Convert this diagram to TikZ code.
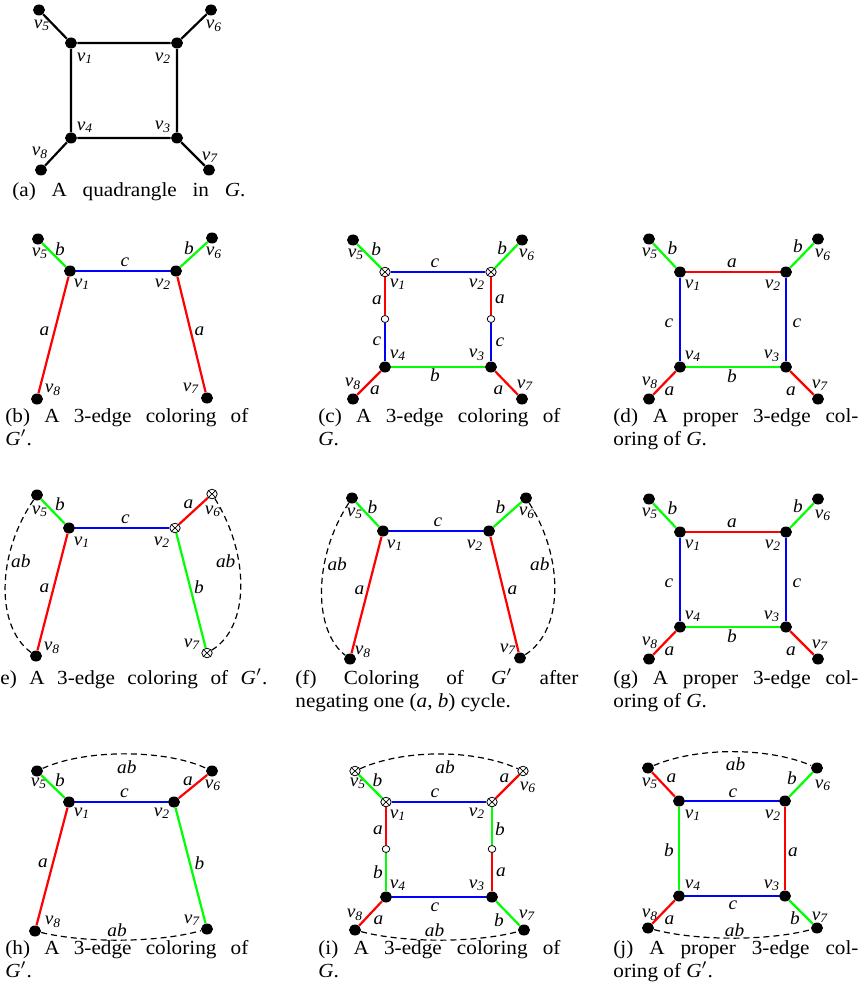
\documentclass[tikz,border=0pt]{standalone}
\usepackage{graphicx}
\usepackage{fontspec}
\setmainfont{Liberation Serif}
\usetikzlibrary{shapes.geometric}
\newcommand\vv[1]{\scalebox{1.05}[1]{\textit{v}\textsubscript{\textit{#1}}}}
\newcommand\ei[1]{\scalebox{1.05}[1]{#1}}
\newcommand\cw[2]{\scalebox{1.06}[1]{\hbox to #1{#2}}}
\newcommand\cn[1]{\scalebox{1.06}[1]{#1}}
\newcommand\capfont{\fontsize{10pt}{11.5pt}\selectfont}
\newcommand\lblfont{\fontsize{9.2pt}{10pt}\selectfont\itshape}
\tikzset{
  vdot/.style={ellipse,fill=black,inner sep=0pt,minimum width=6pt,minimum height=5.5pt},
  xdot/.style={ellipse,draw=black,line width=0.4pt,fill=white,inner sep=0pt,minimum width=5.2pt,minimum height=4.8pt,
    path picture={\draw[line width=0.35pt] (path picture bounding box.north west) -- (path picture bounding box.south east)
      (path picture bounding box.north east) -- (path picture bounding box.south west);}},
  odot/.style={ellipse,draw=black,line width=0.4pt,fill=white,inner sep=0pt,minimum width=3.8pt,minimum height=3.5pt},
  ea/.style={draw=red,line width=1.1pt},
  eb/.style={draw=green,line width=1.1pt},
  ec/.style={draw=blue,line width=1.1pt},
  ek/.style={draw=black,line width=1.1pt},
  eab/.style={draw=black,line width=0.6pt,dash pattern=on 3pt off 2pt},
  el/.style={font=\lblfont,text=black,inner sep=0pt},
  vl/.style={font=\lblfont,text=black,inner sep=0pt},
  captext/.style={font=\capfont,text=black,inner sep=0pt,anchor=base west},
}
\begin{document}
\begin{tikzpicture}[x=0.5pt,y=-0.5pt]
\useasboundingbox (0,0) rectangle (863,1000);
% ---------------- (a)
\begin{scope}[shift={(71,43)}]
\node[vdot,label={[vl,shift={(14,15)}]center:\vv1}] (a1) at (0,0) {};
\node[vdot,label={[vl,shift={(-14,15)}]center:\vv2}] (a2) at (106,0) {};
\node[vdot,label={[vl,shift={(-14,-11)}]center:\vv3}] (a3) at (106,95) {};
\node[vdot,label={[vl,shift={(14,-11)}]center:\vv4}] (a4) at (0,95) {};
\node[vdot,label={[vl,shift={(3,15)}]center:\vv5}] (a5) at (-32,-33) {};
\node[vdot,label={[vl,shift={(3,16)}]center:\vv6}] (a6) at (140,-33) {};
\node[vdot,label={[vl,shift={(1,-13)}]center:\vv7}] (a7) at (138,127) {};
\node[vdot,label={[vl,shift={(-1,-17)}]center:\vv8}] (a8) at (-30,127) {};
\draw[ek] (a5)--(a1) (a1)--(a2) (a2)--(a6) (a1)--(a4) (a2)--(a3) (a4)--(a3) (a8)--(a4) (a3)--(a7);
\end{scope}
\node[captext] (capa) at (12,197) {\cw{109.9pt}{(a) A quadrangle in \textit{G}.}};
% ---------------- (b)
\begin{scope}[shift={(70,271)}]
\node[vdot,label={[vl,shift={(12,13)}]center:\vv1}] (b1) at (0,0) {};
\node[vdot,label={[vl,shift={(-13,13)}]center:\vv2}] (b2) at (106,0) {};
\node[vdot,label={[vl,shift={(2,14)}]center:\vv5}] (b5) at (-32,-32) {};
\node[vdot,label={[vl,shift={(2,15)}]center:\vv6}] (b6) at (142,-33) {};
\node[vdot,label={[vl,shift={(-16,-10)}]center:\vv7}] (b7) at (137,127) {};
\node[vdot,label={[vl,shift={(16,-9)}]center:\vv8}] (b8) at (-33,128) {};
\draw[eb] (b5) -- node[el,shift={(6,-6)}]{\ei{b}} (b1);
\draw[ec] (b1) -- node[el,shift={(2,-9)}]{\ei{c}} (b2);
\draw[eb] (b2) -- node[el,shift={(-5,-6)}]{\ei{b}} (b6);
\draw[ea] (b1) -- node[el,shift={(-9,-4)}]{\ei{a}} (b8);
\draw[ea] (b2) -- node[el,shift={(8,-3)}]{\ei{a}} (b7);
\end{scope}
\node[captext] (capb1) at (5,422) {\cw{114.6pt}{(b) A 3-edge coloring of}};
\node[captext] (capb2) at (5,445) {\cn{\textit{G}$'$.}};
% ---------------- (c)
\begin{scope}[shift={(385,272)}]
\node[xdot,label={[vl,shift={(13,12)}]center:\vv1}] (c1) at (0,0) {};
\node[xdot,label={[vl,shift={(-14,12)}]center:\vv2}] (c2) at (106,0) {};
\node[vdot,label={[vl,shift={(-14,-12)}]center:\vv3}] (c3) at (106,95) {};
\node[vdot,label={[vl,shift={(13,-12)}]center:\vv4}] (c4) at (0,95) {};
\node[vdot,label={[vl,shift={(3,14)}]center:\vv5}] (c5) at (-32,-32) {};
\node[vdot,label={[vl,shift={(5,15)}]center:\vv6}] (c6) at (137,-32) {};
\node[vdot,label={[vl,shift={(3,-14)}]center:\vv7}] (c7) at (137,127) {};
\node[vdot,label={[vl,shift={(0,-15)}]center:\vv8}] (c8) at (-32,127) {};
\node[odot] (cm1) at (0,47) {};
\node[odot] (cm2) at (106,47) {};
\draw[eb] (c5) -- node[el,shift={(7,-7)}]{\ei{b}} (c1);
\draw[ec] (c1) -- node[el,shift={(-3,-9)}]{\ei{c}} (c2);
\draw[eb] (c2) -- node[el,shift={(-4,-8)}]{\ei{b}} (c6);
\draw[ea] (c1) -- node[el,shift={(-8,4)}]{\ei{a}} (cm1);
\draw[ec] (cm1) -- node[el,shift={(-8,-1)}]{\ei{c}} (c4);
\draw[ea] (c2) -- node[el,shift={(9,3)}]{\ei{a}} (cm2);
\draw[ec] (cm2) -- node[el,shift={(9,0)}]{\ei{c}} (c3);
\draw[eb] (c4) -- node[el,shift={(-3,8)}]{\ei{b}} (c3);
\draw[ea] (c8) -- node[el,shift={(6,7)}]{\ei{a}} (c4);
\draw[ea] (c3) -- node[el,shift={(-8,7)}]{\ei{a}} (c7);
\end{scope}
\node[captext] (capc1) at (318,422) {\cw{114.2pt}{(c) A 3-edge coloring of}};
\node[captext] (capc2) at (318,445) {\cn{\textit{G}.}};
% ---------------- (d)
\begin{scope}[shift={(680,272)}]
\node[vdot,label={[vl,shift={(13,13)}]center:\vv1}] (d1) at (0,0) {};
\node[vdot,label={[vl,shift={(-13,13)}]center:\vv2}] (d2) at (106,0) {};
\node[vdot,label={[vl,shift={(-14,-11)}]center:\vv3}] (d3) at (106,95) {};
\node[vdot,label={[vl,shift={(13,-11)}]center:\vv4}] (d4) at (0,95) {};
\node[vdot,label={[vl,shift={(1,14)}]center:\vv5}] (d5) at (-31,-33) {};
\node[vdot,label={[vl,shift={(5,16)}]center:\vv6}] (d6) at (138,-33) {};
\node[vdot,label={[vl,shift={(2,-14)}]center:\vv7}] (d7) at (138,127) {};
\node[vdot,label={[vl,shift={(1,-16)}]center:\vv8}] (d8) at (-31,127) {};
\draw[eb] (d5) -- node[el,shift={(8,-7)}]{\ei{b}} (d1);
\draw[ea] (d1) -- node[el,shift={(-1,-9)}]{\ei{a}} (d2);
\draw[eb] (d2) -- node[el,shift={(-4,-9)}]{\ei{b}} (d6);
\draw[ec] (d1) -- node[el,shift={(-11,4)}]{\ei{c}} (d4);
\draw[ec] (d2) -- node[el,shift={(11,4)}]{\ei{c}} (d3);
\draw[eb] (d4) -- node[el,shift={(-1,9)}]{\ei{b}} (d3);
\draw[ea] (d8) -- node[el,shift={(5,8)}]{\ei{a}} (d4);
\draw[ea] (d3) -- node[el,shift={(-11,8)}]{\ei{a}} (d7);
\end{scope}
\node[captext] (capd1) at (613,422) {\cw{115.6pt}{(d) A proper 3-edge col-}};
\node[captext] (capd2) at (613,445) {\cn{oring of \textit{G}.}};
% ---------------- (e)
\begin{scope}[shift={(69,528)}]
\node[vdot,label={[vl,shift={(13,14)}]center:\vv1}] (e1) at (0,0) {};
\node[xdot,label={[vl,shift={(-13,14)}]center:\vv2}] (e2) at (106,0) {};
\node[vdot,label={[vl,shift={(3,16)}]center:\vv5}] (e5) at (-32,-33) {};
\node[xdot,label={[vl,shift={(1,17)}]center:\vv6}] (e6) at (143,-34) {};
\node[xdot,label={[vl,shift={(-15,-9)}]center:\vv7}] (e7) at (138,125) {};
\node[vdot,label={[vl,shift={(16,-8)}]center:\vv8}] (e8) at (-33,128) {};
\draw[eb] (e5) -- node[el,shift={(7,-7)}]{\ei{b}} (e1);
\draw[ec] (e1) -- node[el,shift={(3,-9)}]{\ei{c}} (e2);
\draw[ea] (e2) -- node[el,shift={(-5,-7)}]{\ei{a}} (e6);
\draw[ea] (e1) -- node[el,shift={(-8,-4)}]{\ei{a}} (e8);
\draw[eb] (e2) -- node[el,shift={(8,-3)}]{\ei{b}} (e7);
\draw[eab] (e5) .. controls (-73,27) and (-73,99) .. node[el,pos=0.35,shift={(13,0)}]{\ei{ab}} (e8);
\draw[eab] (e6) .. controls (181,27) and (181,99) .. node[el,pos=0.35,shift={(-13,0)}]{\ei{ab}} (e7);
\end{scope}
\node[captext] (cape) at (-7,684) {\cw{129.2pt}{(e) A 3-edge coloring of \textit{G}$'$.}};
% ---------------- (f)
\begin{scope}[shift={(383,531)}]
\node[vdot,label={[vl,shift={(12,14)}]center:\vv1}] (f1) at (0,0) {};
\node[vdot,label={[vl,shift={(-14,14)}]center:\vv2}] (f2) at (106,0) {};
\node[vdot,label={[vl,shift={(3,15)}]center:\vv5}] (f5) at (-31,-33) {};
\node[vdot,label={[vl,shift={(1,15)}]center:\vv6}] (f6) at (143,-33) {};
\node[vdot,label={[vl,shift={(-12,-9)}]center:\vv7}] (f7) at (137,127) {};
\node[vdot,label={[vl,shift={(13,-7)}]center:\vv8}] (f8) at (-33,128) {};
\draw[eb] (f5) -- node[el,shift={(5,-7)}]{\ei{b}} (f1);
\draw[ec] (f1) -- node[el,shift={(2,-9)}]{\ei{c}} (f2);
\draw[eb] (f2) -- node[el,shift={(-7,-7)}]{\ei{b}} (f6);
\draw[ea] (f1) -- node[el,shift={(-7,-5)}]{\ei{a}} (f8);
\draw[ea] (f2) -- node[el,shift={(8,-4)}]{\ei{a}} (f7);
\draw[eab] (f5) .. controls (-70,27) and (-70,99) .. node[el,pos=0.35,shift={(13,0)}]{\ei{ab}} (f8);
\draw[eab] (f6) .. controls (181,27) and (181,99) .. node[el,pos=0.35,shift={(-13,0)}]{\ei{ab}} (f7);
\end{scope}
\node[captext] (capf1) at (295,684) {\cw{133.5pt}{(f)\hfill Coloring\hfill of\hfill \textit{G}$'$\hfill after}};
\node[captext] (capf2) at (295,707) {\cn{negating one (\textit{a}, \textit{b}) cycle.}};
% ---------------- (g)
\begin{scope}[shift={(680,532)}]
\node[vdot,label={[vl,shift={(13,13)}]center:\vv1}] (g1) at (0,0) {};
\node[vdot,label={[vl,shift={(-13,13)}]center:\vv2}] (g2) at (106,0) {};
\node[vdot,label={[vl,shift={(-14,-11)}]center:\vv3}] (g3) at (106,95) {};
\node[vdot,label={[vl,shift={(13,-11)}]center:\vv4}] (g4) at (0,95) {};
\node[vdot,label={[vl,shift={(1,14)}]center:\vv5}] (g5) at (-31,-33) {};
\node[vdot,label={[vl,shift={(5,16)}]center:\vv6}] (g6) at (138,-33) {};
\node[vdot,label={[vl,shift={(2,-14)}]center:\vv7}] (g7) at (138,127) {};
\node[vdot,label={[vl,shift={(1,-16)}]center:\vv8}] (g8) at (-31,127) {};
\draw[eb] (g5) -- node[el,shift={(8,-7)}]{\ei{b}} (g1);
\draw[ea] (g1) -- node[el,shift={(-1,-9)}]{\ei{a}} (g2);
\draw[eb] (g2) -- node[el,shift={(-4,-9)}]{\ei{b}} (g6);
\draw[ec] (g1) -- node[el,shift={(-11,4)}]{\ei{c}} (g4);
\draw[ec] (g2) -- node[el,shift={(11,4)}]{\ei{c}} (g3);
\draw[eb] (g4) -- node[el,shift={(-1,9)}]{\ei{b}} (g3);
\draw[ea] (g8) -- node[el,shift={(5,8)}]{\ei{a}} (g4);
\draw[ea] (g3) -- node[el,shift={(-11,8)}]{\ei{a}} (g7);
\end{scope}
\node[captext] (capg1) at (613,684) {\cw{115.6pt}{(g) A proper 3-edge col-}};
\node[captext] (capg2) at (613,707) {\cn{oring of \textit{G}.}};
% ---------------- (h)
\begin{scope}[shift={(69,802)}]
\node[vdot,label={[vl,shift={(13,11)}]center:\vv1}] (h1) at (0,0) {};
\node[vdot,label={[vl,shift={(-12,11)}]center:\vv2}] (h2) at (105,0) {};
\node[vdot,label={[vl,shift={(2,12)}]center:\vv5}] (h5) at (-32,-31) {};
\node[vdot,label={[vl,shift={(1,14)}]center:\vv6}] (h6) at (143,-31) {};
\node[vdot,label={[vl,shift={(-15,-9)}]center:\vv7}] (h7) at (138,127) {};
\node[vdot,label={[vl,shift={(18,-9)}]center:\vv8}] (h8) at (-34,129) {};
\draw[eb] (h5) -- node[el,shift={(7,-6)}]{\ei{b}} (h1);
\draw[ec] (h1) -- node[el,shift={(3,-9)}]{\ei{c}} (h2);
\draw[ea] (h2) -- node[el,shift={(-5,-5)}]{\ei{a}} (h6);
\draw[ea] (h1) -- node[el,shift={(-9,-3)}]{\ei{a}} (h8);
\draw[eb] (h2) -- node[el,shift={(9,-2)}]{\ei{b}} (h7);
\draw[eab] (h5) .. controls (16,-53) and (96,-53) .. node[el,midway,shift={(2,13)}]{\ei{ab}} (h6);
\draw[eab] (h8) .. controls (16,141) and (88,141) .. node[el,midway,shift={(-4,-10)}]{\ei{ab}} (h7);
\end{scope}
\node[captext] (caph1) at (5,954) {\cw{114.6pt}{(h) A 3-edge coloring of}};
\node[captext] (caph2) at (5,977) {\cn{\textit{G}$'$.}};
% ---------------- (i)
\begin{scope}[shift={(386,802)}]
\node[xdot,label={[vl,shift={(12,13)}]center:\vv1}] (i1) at (0,0) {};
\node[xdot,label={[vl,shift={(-15,11)}]center:\vv2}] (i2) at (106,0) {};
\node[vdot,label={[vl,shift={(-15,-12)}]center:\vv3}] (i3) at (106,95) {};
\node[vdot,label={[vl,shift={(12,-12)}]center:\vv4}] (i4) at (0,95) {};
\node[xdot,label={[vl,shift={(3,12)}]center:\vv5}] (i5) at (-31,-31) {};
\node[xdot,label={[vl,shift={(5,16)}]center:\vv6}] (i6) at (137,-31) {};
\node[vdot,label={[vl,shift={(3,-15)}]center:\vv7}] (i7) at (138,128) {};
\node[vdot,label={[vl,shift={(0,-15)}]center:\vv8}] (i8) at (-31,128) {};
\node[odot] (im1) at (0,47) {};
\node[odot] (im2) at (106,47) {};
\draw[eb] (i5) -- node[el,shift={(7,-6)}]{\ei{b}} (i1);
\draw[ec] (i1) -- node[el,shift={(-4,-9)}]{\ei{c}} (i2);
\draw[ea] (i2) -- node[el,shift={(-3,-8)}]{\ei{a}} (i6);
\draw[ea] (i1) -- node[el,shift={(-8,4)}]{\ei{a}} (im1);
\draw[eb] (im1) -- node[el,shift={(-8,0)}]{\ei{b}} (i4);
\draw[eb] (i2) -- node[el,shift={(8,3)}]{\ei{b}} (im2);
\draw[ea] (im2) -- node[el,shift={(9,0)}]{\ei{a}} (i3);
\draw[ec] (i4) -- node[el,shift={(-4,10)}]{\ei{c}} (i3);
\draw[ea] (i8) -- node[el,shift={(8,7)}]{\ei{a}} (i4);
\draw[eb] (i3) -- node[el,shift={(-9,7)}]{\ei{b}} (i7);
\draw[eab] (i5) .. controls (18,-53) and (88,-53) .. node[el,midway,shift={(6,13)}]{\ei{ab}} (i6);
\draw[eab] (i8) .. controls (18,141) and (89,141) .. node[el,midway,shift={(-5,-10)}]{\ei{ab}} (i7);
\end{scope}
\node[captext] (capi1) at (318,954) {\cw{114.2pt}{(i) A 3-edge coloring of}};
\node[captext] (capi2) at (318,977) {\cn{\textit{G}.}};
% ---------------- (j)
\begin{scope}[shift={(679,801)}]
\node[vdot,label={[vl,shift={(14,14)}]center:\vv1}] (j1) at (0,0) {};
\node[vdot,label={[vl,shift={(-12,14)}]center:\vv2}] (j2) at (106,0) {};
\node[vdot,label={[vl,shift={(-13,-11)}]center:\vv3}] (j3) at (106,95) {};
\node[vdot,label={[vl,shift={(14,-11)}]center:\vv4}] (j4) at (0,95) {};
\node[vdot,label={[vl,shift={(2,15)}]center:\vv5}] (j5) at (-31,-33) {};
\node[vdot,label={[vl,shift={(6,17)}]center:\vv6}] (j6) at (138,-33) {};
\node[vdot,label={[vl,shift={(3,-11)}]center:\vv7}] (j7) at (138,127) {};
\node[vdot,label={[vl,shift={(2,-13)}]center:\vv8}] (j8) at (-31,127) {};
\draw[ea] (j5) -- node[el,shift={(8,-6)}]{\ei{a}} (j1);
\draw[ec] (j1) -- node[el,shift={(1,-8)}]{\ei{c}} (j2);
\draw[eb] (j2) -- node[el,shift={(-9,-6)}]{\ei{b}} (j6);
\draw[eb] (j1) -- node[el,shift={(-10,2)}]{\ei{b}} (j4);
\draw[ea] (j2) -- node[el,shift={(8,4)}]{\ei{a}} (j3);
\draw[ec] (j4) -- node[el,shift={(1,9)}]{\ei{c}} (j3);
\draw[ea] (j8) -- node[el,shift={(6,8)}]{\ei{a}} (j4);
\draw[eb] (j3) -- node[el,shift={(-6,6)}]{\ei{b}} (j7);
\draw[eab] (j5) .. controls (18,-54) and (89,-54) .. node[el,midway,shift={(3,13)}]{\ei{ab}} (j6);
\draw[eab] (j8) .. controls (18,140) and (89,140) .. node[el,midway,shift={(2,-8)}]{\ei{ab}} (j7);
\end{scope}
\node[captext] (capj1) at (613,954) {\cw{115.6pt}{(j) A proper 3-edge col-}};
\node[captext] (capj2) at (613,977) {\cn{oring of \textit{G}$'$.}};
\end{tikzpicture}
\end{document}
